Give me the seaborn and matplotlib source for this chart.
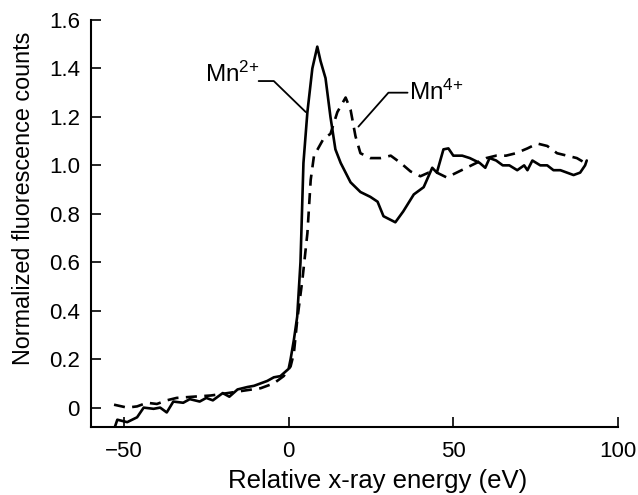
import numpy as np
import pandas as pd
import matplotlib
matplotlib.use("Agg")
import matplotlib.pyplot as plt
import seaborn as sns

# ─────────────────────────────────────────
# Data
# ─────────────────────────────────────────
mn2_energy = [-53, -52, -49, -46, -44, -41, -39, -37, -35, -32, -30, -27, -25, -23,
              -20, -18, -15.5, -12.5, -10.5, -8.5, -6.5, -4.5, -2.5, 0, 0.6, 1.6,
              2.6, 3.6, 4.5, 5.7, 7.2, 8.7, 9.7, 11.2, 12.7, 14.2, 15.8, 18.8, 21.8,
              24.8, 27, 28.8, 32.4, 34.8, 38, 41, 43.6, 45, 47, 48.5, 50, 52.7, 55,
              58, 59.7, 61, 63, 65, 67, 69.4, 71.5, 72.5, 74, 76.4, 78.5, 80.4, 82.5,
              84.5, 86.5, 88.5, 90, 90.5]
mn2_counts = [-0.09, -0.05, -0.06, -0.04, 0.0, -0.005, 0.0, -0.02, 0.025, 0.02, 0.035,
              0.025, 0.04, 0.03, 0.06, 0.045, 0.075, 0.085, 0.09, 0.10, 0.11, 0.125,
              0.13, 0.16, 0.20, 0.28, 0.375, 0.60, 1.01, 1.22, 1.40, 1.49, 1.43, 1.36,
              1.20, 1.066, 1.01, 0.93, 0.89, 0.87, 0.85, 0.79, 0.765, 0.81, 0.88, 0.91,
              0.99, 0.97, 1.066, 1.07, 1.04, 1.04, 1.03, 1.01, 0.99, 1.03, 1.02, 1.0,
              1.0, 0.98, 1.0, 0.98, 1.02, 1.0, 1.0, 0.98, 0.98, 0.97, 0.96, 0.97, 1.0,
              1.02]

mn4_energy = [-53, -49, -46, -43, -40, -37, -34, -29, -23.6, -18.5, -13.6, -8.5, -4.5,
              -1.5, 0.6, 1.6, 2.6, 4.2, 5.7, 6.7, 7.7, 8.8, 10.6, 12.7, 14.8, 17.3,
              18.8, 20.3, 21.8, 24.8, 27.9, 31, 34, 37, 40, 42.5, 45, 48, 51, 54, 57,
              60, 63, 66, 69, 72.5, 75.5, 78.5, 81.5, 84.5, 87.5, 90, 90.5]
mn4_counts = [0.012, 0.0, 0.005, 0.02, 0.015, 0.03, 0.04, 0.045, 0.05, 0.06, 0.07, 0.08,
              0.10, 0.13, 0.17, 0.225, 0.36, 0.53, 0.72, 0.94, 1.04, 1.066, 1.11, 1.13,
              1.22, 1.28, 1.23, 1.12, 1.05, 1.03, 1.03, 1.04, 1.01, 0.975, 0.955, 0.97,
              0.97, 0.95, 0.97, 0.99, 1.01, 1.03, 1.04, 1.04, 1.05, 1.07, 1.09, 1.08,
              1.05, 1.04, 1.03, 1.01, 1.02]

x_ticks = [-50, 0, 50, 100]
y_ticks = [0, 0.2, 0.4, 0.6, 0.8, 1.0, 1.2, 1.4, 1.6]

df2 = pd.DataFrame({"energy": mn2_energy, "counts": mn2_counts})
df4 = pd.DataFrame({"energy": mn4_energy, "counts": mn4_counts})

# ─────────────────────────────────────────
# Style
# ─────────────────────────────────────────
sns.set_style("ticks")
plt.rcParams["font.family"] = ["Liberation Sans", "DejaVu Sans"]
plt.rcParams["mathtext.default"] = "regular"
plt.rcParams["text.color"] = "black"
plt.rcParams["axes.labelcolor"] = "black"

fig = plt.figure(figsize=(6.38, 4.95), dpi=100)
ax = fig.add_axes([0.1426, 0.1374, 0.8261, 0.8222])

sns.lineplot(data=df2, x="energy", y="counts", ax=ax, color="black",
             lw=1.9, sort=False, estimator=None)
sns.lineplot(data=df4, x="energy", y="counts", ax=ax, color="black",
             lw=1.9, sort=False, estimator=None)
ax.lines[1].set_linestyle((0, (4.2, 2.8)))

# Labels with leader lines
ax.text(-8.7, 1.344, "Mn$^{2{+}}$", fontsize=17.5, ha="right", va="baseline")
ax.plot([-9.1, -4.5, 5.2], [1.348, 1.348, 1.22], color="black", lw=1.3)
ax.text(36.6, 1.27, "Mn$^{4{+}}$", fontsize=17.5, ha="left", va="baseline")
ax.plot([36.1, 30.3, 21.2], [1.30, 1.30, 1.16], color="black", lw=1.3)

ax.set_xlim(-60, 100)
ax.set_ylim(-0.08, 1.6)
ax.set_xticks(x_ticks)
ax.set_yticks(y_ticks)
ax.set_yticklabels(["0" if v == 0 else f"{v:.1f}" for v in y_ticks])
ax.set_xticklabels([str(v).replace("-", "\u2212") for v in x_ticks])
ax.tick_params(direction="in", length=7, width=1.2, labelsize=16, colors="black")
ax.tick_params(axis="y", pad=8)
ax.tick_params(axis="x", pad=10)
ax.set_xlabel("Relative x-ray energy (eV)", fontsize=18.5)
ax.set_ylabel("Normalized fluorescence counts", fontsize=16.8)
ax.xaxis.set_label_coords(0.544, -0.103)
ax.yaxis.set_label_coords(-0.106, 0.563)

for s in ["top", "right"]:
    ax.spines[s].set_visible(False)
for s in ["left", "bottom"]:
    ax.spines[s].set_linewidth(1.5)
    ax.spines[s].set_color("black")

fig.savefig("out.png", dpi=100)
